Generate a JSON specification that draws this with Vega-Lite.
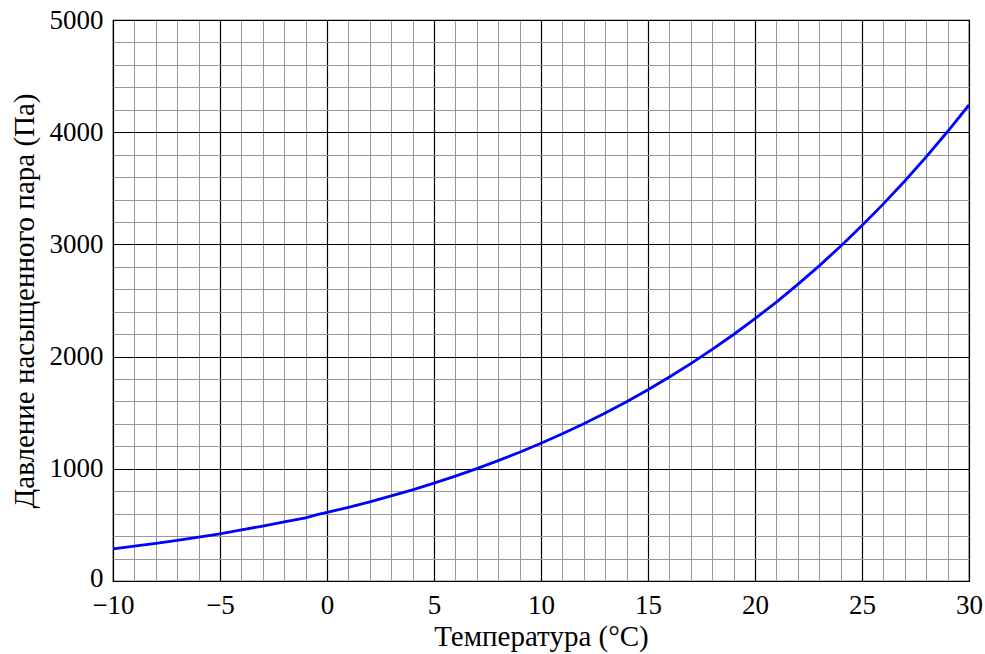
{
  "$schema": "https://vega.github.io/schema/vega-lite/v6.json",
  "width": 856,
  "height": 561,
  "autosize": {"type": "none"},
  "padding": {"left": 113, "top": 20, "right": 16, "bottom": 73},
  "background": "white",
  "config": {
    "view": {"stroke": "black", "strokeWidth": 1.2},
    "font": "Liberation Serif"
  },
  "data": {
    "values": [
      {"t": -10, "p": 286}, {"t": -9, "p": 310}, {"t": -8, "p": 335}, {"t": -7, "p": 362},
      {"t": -6, "p": 391}, {"t": -5, "p": 421}, {"t": -4, "p": 455}, {"t": -3, "p": 490},
      {"t": -2, "p": 527}, {"t": -1, "p": 563}, {"t": -0.5, "p": 590}, {"t": 0, "p": 611}, {"t": 1, "p": 657},
      {"t": 2, "p": 706}, {"t": 3, "p": 758}, {"t": 4, "p": 813}, {"t": 5, "p": 872},
      {"t": 6, "p": 935}, {"t": 7, "p": 1002}, {"t": 8, "p": 1073}, {"t": 9, "p": 1148},
      {"t": 10, "p": 1228}, {"t": 11, "p": 1312}, {"t": 12, "p": 1402}, {"t": 13, "p": 1497},
      {"t": 14, "p": 1598}, {"t": 15, "p": 1705}, {"t": 16, "p": 1818}, {"t": 17, "p": 1937},
      {"t": 18, "p": 2064}, {"t": 19, "p": 2197}, {"t": 20, "p": 2338}, {"t": 21, "p": 2486},
      {"t": 22, "p": 2644}, {"t": 23, "p": 2809}, {"t": 24, "p": 2984}, {"t": 25, "p": 3168},
      {"t": 26, "p": 3361}, {"t": 27, "p": 3565}, {"t": 28, "p": 3780}, {"t": 29, "p": 4006},
      {"t": 30, "p": 4243}
    ]
  },
  "mark": {"type": "line", "color": "#0000ff", "strokeWidth": 2.8, "clip": true},
  "encoding": {
    "x": {
      "field": "t", "type": "quantitative",
      "scale": {"domain": [-10, 30], "nice": false, "zero": false},
      "axis": {
        "title": "Температура (°C)",
        "values": [-10,-9,-8,-7,-6,-5,-4,-3,-2,-1,0,1,2,3,4,5,6,7,8,9,10,11,12,13,14,15,16,17,18,19,20,21,22,23,24,25,26,27,28,29,30],
        "labelExpr": "datum.value % 5 === 0 ? datum.label : ''",
        "ticks": false,
        "domain": false,
        "labelFontSize": 27,
        "labelColor": "black",
        "labelPadding": 11,
        "labelFlush": false,
        "titleFontSize": 29,
        "titleFontWeight": "normal",
        "titleColor": "black",
        "titlePadding": 4,
        "grid": true,
        "gridColor": {"condition": {"test": "datum.value % 5 === 0", "value": "black"}, "value": "#999999"},
        "gridWidth": {"condition": {"test": "datum.value % 5 === 0", "value": 1.2}, "value": 1},
        "gridOpacity": 1
      }
    },
    "y": {
      "field": "p", "type": "quantitative",
      "scale": {"domain": [0, 5000], "nice": false},
      "axis": {
        "title": "Давление насыщенного пара (Па)",
        "values": [0,200,400,600,800,1000,1200,1400,1600,1800,2000,2200,2400,2600,2800,3000,3200,3400,3600,3800,4000,4200,4400,4600,4800,5000],
        "labelExpr": "datum.value % 1000 === 0 ? format(datum.value, 'd') : ''",
        "ticks": false,
        "domain": false,
        "labelFontSize": 27,
        "labelColor": "black",
        "labelPadding": 10,
        "labelFlush": false,
        "labelOffset": {"condition": {"test": "datum.value === 0", "value": -3}, "value": 0},
        "titleFontSize": 29,
        "titleFontWeight": "normal",
        "titleColor": "black",
        "titlePadding": 10,
        "grid": true,
        "gridColor": {"condition": {"test": "datum.value % 1000 === 0", "value": "black"}, "value": "#999999"},
        "gridWidth": {"condition": {"test": "datum.value % 1000 === 0", "value": 1.2}, "value": 1},
        "gridOpacity": 1
      }
    }
  }
}
